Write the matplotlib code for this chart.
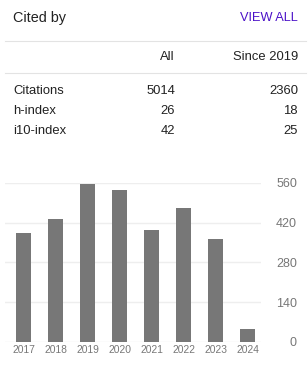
import matplotlib.pyplot as plt
import numpy as np

plt.rcParams['font.family'] = ['Liberation Sans', 'DejaVu Sans']

# data
years = ['2017', '2018', '2019', '2020', '2021', '2022', '2023', '2024']
citations = [384, 432, 554, 534, 393, 471, 362, 46]
row_names = ['Citations', 'h-index', 'i10-index']
all_vals = [5014, 26, 42]
since_vals = [2360, 18, 25]
yticks = [0, 140, 280, 420, 560]

W, H = 308, 382
fig = plt.figure(figsize=(W / 100, H / 100), dpi=100)
fig.patch.set_facecolor('white')

def fx(px):
    return px / W

def fy(py):
    return 1 - py / H

txt = '#222222'

# header
fig.text(fx(13), fy(18), 'Cited by', fontsize=10.4, color=txt, va='center', ha='left')
fig.text(fx(298), fy(18), 'VIEW ALL', fontsize=9.2, color='#4b11c8', va='center', ha='right')

# separator lines
for py in [40.7, 73.3]:
    fig.add_artist(plt.Line2D([fx(5), fx(306)], [fy(py), fy(py)], color='#e3e3e3', lw=0.8))

fig.text(fx(175), fy(57), 'All', fontsize=9.4, color=txt, va='center', ha='right')
fig.text(fx(298), fy(57), 'Since 2019', fontsize=9.4, color=txt, va='center', ha='right')

row_y = [91.5, 111.5, 131.5]
for name, a, s, py in zip(row_names, all_vals, since_vals, row_y):
    fig.text(fx(13), fy(py), name, fontsize=9.4, color=txt, va='center', ha='left')
    fig.text(fx(175), fy(py), str(a), fontsize=9.4, color=txt, va='center', ha='right')
    fig.text(fx(298), fy(py), str(s), fontsize=9.4, color=txt, va='center', ha='right')

# bar chart
left, right, top, bottom = 5, 261, 182.7, 342
ax = fig.add_axes([fx(left), fy(bottom), fx(right - left), (bottom - top) / H])
x = np.arange(len(years))
ax.bar(x, citations, width=0.47, color='#777777', zorder=2)
ax.set_xlim(-0.578, 7.42)
ax.set_ylim(0, 560)
ax.set_yticks(yticks)
ax.yaxis.grid(True, color='#eeeeee', lw=1.0, zorder=0)
ax.set_axisbelow(True)
for sp in ax.spines.values():
    sp.set_visible(False)
ax.yaxis.tick_right()
ax.tick_params(axis='y', length=0, pad=25.9, labelsize=9, labelcolor='#777777')
for lab in ax.get_yticklabels():
    lab.set_horizontalalignment('right')
ax.set_xticks(x)
ax.set_xticklabels(years)
ax.tick_params(axis='x', length=0, pad=2.5, labelsize=7.4, labelcolor='#777777')
ax.set_facecolor('none')

fig.savefig('out.png', dpi=100)
